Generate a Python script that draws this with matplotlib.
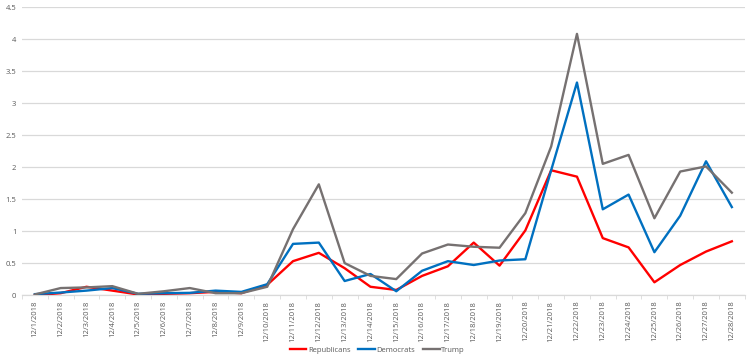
import matplotlib
matplotlib.use("Agg")
import matplotlib.pyplot as plt
import numpy as np

dates = [f"12/{d}/2018" for d in range(1, 29)]
republicans = [0.0, 0.03, 0.13, 0.07, 0.01, 0.02, 0.03, 0.05, 0.03, 0.16,
               0.53, 0.66, 0.42, 0.13, 0.08, 0.30, 0.45, 0.82, 0.46, 1.01,
               1.95, 1.85, 0.89, 0.745, 0.20, 0.47, 0.68, 0.84]
democrats = [0.015, 0.04, 0.07, 0.11, 0.02, 0.03, 0.035, 0.07, 0.05, 0.17,
             0.80, 0.82, 0.22, 0.33, 0.06, 0.38, 0.53, 0.47, 0.54, 0.56,
             1.95, 3.32, 1.34, 1.57, 0.67, 1.24, 2.09, 1.375]
trump = [0.01, 0.11, 0.12, 0.14, 0.02, 0.06, 0.11, 0.03, 0.03, 0.13,
         1.03, 1.73, 0.50, 0.30, 0.25, 0.65, 0.79, 0.755, 0.74, 1.28,
         2.32, 4.08, 2.05, 2.19, 1.20, 1.93, 2.01, 1.60]
yticks = [0, 0.5, 1, 1.5, 2, 2.5, 3, 3.5, 4, 4.5]
ytick_labels = ["0", "0.5", "1", "1.5", "2", "2.5", "3", "3.5", "4", "4.5"]

plt.rcParams['font.family'] = ['Open Sans', 'DejaVu Sans']
fig = plt.figure(figsize=(7.5, 3.59), dpi=100)
ax = fig.add_axes([0.0293, 0.178, 0.9637, 0.8025])

x = np.arange(len(dates))
lw = 1.7
ax.plot(x, republicans, color="#ff0000", lw=lw, label="Republicans", zorder=3)
ax.plot(x, democrats, color="#0070c0", lw=lw, label="Democrats", zorder=3)
ax.plot(x, trump, color="#767171", lw=lw, label="Trump", zorder=3)

ax.set_xlim(-0.5, len(dates) - 0.5)
ax.set_ylim(0, 4.5)
ax.set_yticks(yticks)
ax.set_yticklabels(ytick_labels)
ax.set_xticks(x)
ax.set_xticklabels(dates, rotation=90)
ax.set_xticks(np.arange(-0.5, len(dates), 1), minor=True)
ax.tick_params(axis='x', which='major', length=0, pad=4, labelsize=5.5, labelcolor="#595959")
ax.tick_params(axis='x', which='minor', length=3, color="#d9d9d9")
ax.tick_params(axis='y', length=0, pad=4, labelsize=5.5, labelcolor="#595959")

ax.grid(axis='y', color="#d9d9d9", lw=0.9, zorder=0)
for s in ["top", "right", "left"]:
    ax.spines[s].set_visible(False)
ax.spines["bottom"].set_color("#d9d9d9")
ax.spines["bottom"].set_linewidth(0.9)

fig.legend(loc="center", bbox_to_anchor=(0.503, 0.025), ncol=3, frameon=False,
           fontsize=5.5, handlelength=2.2, handletextpad=0.2, columnspacing=1.0,
           labelcolor="#595959")

fig.savefig("out.png", dpi=100, facecolor="white")
